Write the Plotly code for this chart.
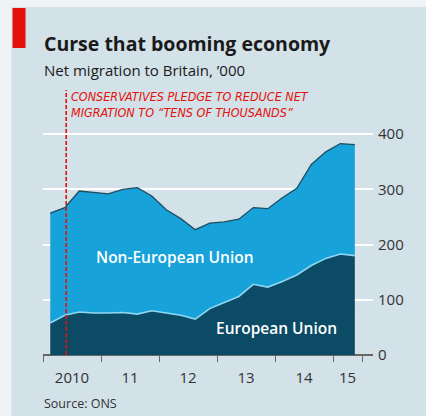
import plotly.graph_objects as go

# quarterly net migration, '000 (first point Q1 2010)
quarters = [2010.125 + 0.25 * k for k in range(22)]
eu = [58, 72, 78, 76, 76, 77, 74, 80, 76, 72, 65, 84, 95, 106, 128, 123, 133, 145, 162, 175, 183, 180]
non_eu = [199, 195, 219, 218, 216, 223, 229, 208, 187, 175, 162, 155, 146, 140, 139, 142, 152, 157, 183, 193, 200, 201]
year_bounds = [2010, 2011, 2012, 2013, 2014, 2015, 2015.5]
year_mids = [2010.5, 2011.5, 2012.5, 2013.5, 2014.5, 2015.25]
year_labels = ["2010", "11", "12", "13", "14", "15"]
y_ticks = [0, 100, 200, 300, 400]
pledge_x = 2010.4

W, Hh = 426, 416
L, R, T, B = 42.5, 373, 90, 355

def px(x):
    return (x - L) / (R - L)

def py(y):
    return (B - y) / (B - T)

fig = go.Figure()
fig.add_trace(go.Scatter(x=quarters, y=eu, stackgroup="one", mode="lines",
                         line=dict(color="#8fd6f2", width=1.6),
                         fillcolor="#0c4b66", hoverinfo="skip"))
fig.add_trace(go.Scatter(x=quarters, y=non_eu, stackgroup="one", mode="lines",
                         line=dict(color="#1f4d62", width=1.3),
                         fillcolor="#17a2da", hoverinfo="skip"))

shapes = [
    # light outer frame + panel
    dict(type="rect", xref="paper", yref="paper", x0=px(11), x1=px(W + 2),
         y0=py(Hh + 2), y1=py(7), fillcolor="#d3e1e8", line=dict(width=0), layer="below"),
    dict(type="rect", xref="paper", yref="paper", x0=px(12), x1=px(25),
         y0=py(48), y1=py(8), fillcolor="#e3120b", line=dict(width=0), layer="below"),
    dict(type="line", xref="x", yref="paper", x0=pledge_x, x1=pledge_x, y0=0, y1=1,
         line=dict(color="#e3120b", width=1.6, dash="4px,2px"), layer="above"),
]

annotations = [
    dict(text="<b>Curse that booming economy</b>", x=px(41), y=py(43), xref="paper", yref="paper",
         xanchor="left", yanchor="middle", showarrow=False,
         font=dict(family="Open Sans", size=19.5, weight=800, color="#1a1a1a")),
    dict(text="Net migration to Britain, ’000", x=px(41), y=py(70), xref="paper", yref="paper",
         xanchor="left", yanchor="middle", showarrow=False,
         font=dict(family="Open Sans", size=15, color="#1a1a1a")),
    dict(text="CONSERVATIVES PLEDGE TO REDUCE NET<br>MIGRATION TO “TENS OF THOUSANDS”",
         x=px(69), y=py(104), xref="paper", yref="paper", xanchor="left", yanchor="middle",
         align="left", showarrow=False,
         font=dict(family="Liberation Sans Narrow, DejaVu Sans Condensed, Open Sans", size=12.5,
                   style="italic", color="#e3120b")),
    dict(text="Non-European Union", x=2012.28, y=177, xref="x", yref="y", showarrow=False,
         font=dict(family="Open Sans", size=15.5, weight=600, color="white")),
    dict(text="European Union", x=2014.02, y=49, xref="x", yref="y", showarrow=False,
         font=dict(family="Open Sans", size=15.5, weight=600, color="white")),
    dict(text="Source: ONS", x=px(41), y=py(403), xref="paper", yref="paper",
         xanchor="left", yanchor="middle", showarrow=False,
         font=dict(family="Open Sans", size=12.5, color="#333333")),
]

x0 = 2010
x_per_px = 1 / 58.1
fig.update_layout(
    width=W, height=Hh,
    margin=dict(l=L, r=W - R, t=T, b=Hh - B, pad=0),
    paper_bgcolor="#eef3f6", plot_bgcolor="rgba(0,0,0,0)",
    showlegend=False, shapes=shapes, annotations=annotations,
    xaxis=dict(range=[x0, x0 + (R - L) * x_per_px], tickvals=year_mids, ticktext=year_labels,
               ticks="", showgrid=False, zeroline=False, showline=False,
               ticklabelstandoff=12,
               tickfont=dict(family="Open Sans", size=15, color="#333333"),
               minor=dict(tickvals=year_bounds, ticks="outside", ticklen=6, tickwidth=1.2,
                          tickcolor="#666666", showgrid=False)),
    yaxis=dict(range=[0, 480], tickvals=y_ticks, side="right", ticks="",
               showgrid=True, gridcolor="white", gridwidth=2,
               zeroline=True, zerolinecolor="#666666", zerolinewidth=1.5,
               showline=False, ticklabelstandoff=4,
               tickfont=dict(family="Open Sans", size=15, color="#333333")),
)

fig.write_html("out.html")
